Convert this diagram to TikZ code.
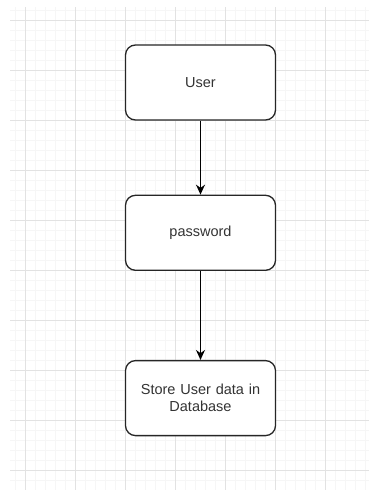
\documentclass[tikz,border=0pt]{standalone}
\usepackage{fontspec}
\setmainfont{Liberation Sans}
\usepackage{xcolor}
\usetikzlibrary{positioning,arrows.meta}

\definecolor{minorgrid}{HTML}{F6F6F6}
\definecolor{majorgrid}{HTML}{E2E2E2}

\begin{document}
\begin{tikzpicture}[
    x=1pt, y=-1pt,
    stepbox/.style={rectangle, draw=black!85, line width=1.3pt, rounded corners=10pt, fill=white,
        minimum width=150pt, minimum height=75pt, text width=140pt, align=center,
        font=\fontsize{14.5}{17}\selectfont, text=black!80},
    flow/.style={line width=1.4pt, -{Stealth[length=10pt,width=9pt]}}
]
    \useasboundingbox (0,0) rectangle (369,490);
    \fill[white] (0,0) rectangle (369,490);
    % background grid
    \foreach \gx in {15,25,...,365} \draw[minorgrid, line width=0.6pt] (\gx,7) -- (\gx,490);
    \foreach \gy in {10,20,...,490} \draw[minorgrid, line width=0.6pt] (10,\gy) -- (369,\gy);
    \foreach \gx in {25,75,...,325} \draw[majorgrid, line width=0.8pt] (\gx,7) -- (\gx,490);
    \foreach \gy in {20,70,...,470} \draw[majorgrid, line width=0.8pt] (10,\gy) -- (369,\gy);

    \node[stepbox] (user) at (200.5,82.5) {User};
    \node[stepbox, below=74pt of user] (password) {password};
    \node[stepbox, below=89pt of password] (store) {Store User data in\\Database};

    \draw[flow] (user) -- (password);
    \draw[flow] (password) -- (store);
\end{tikzpicture}
\end{document}
